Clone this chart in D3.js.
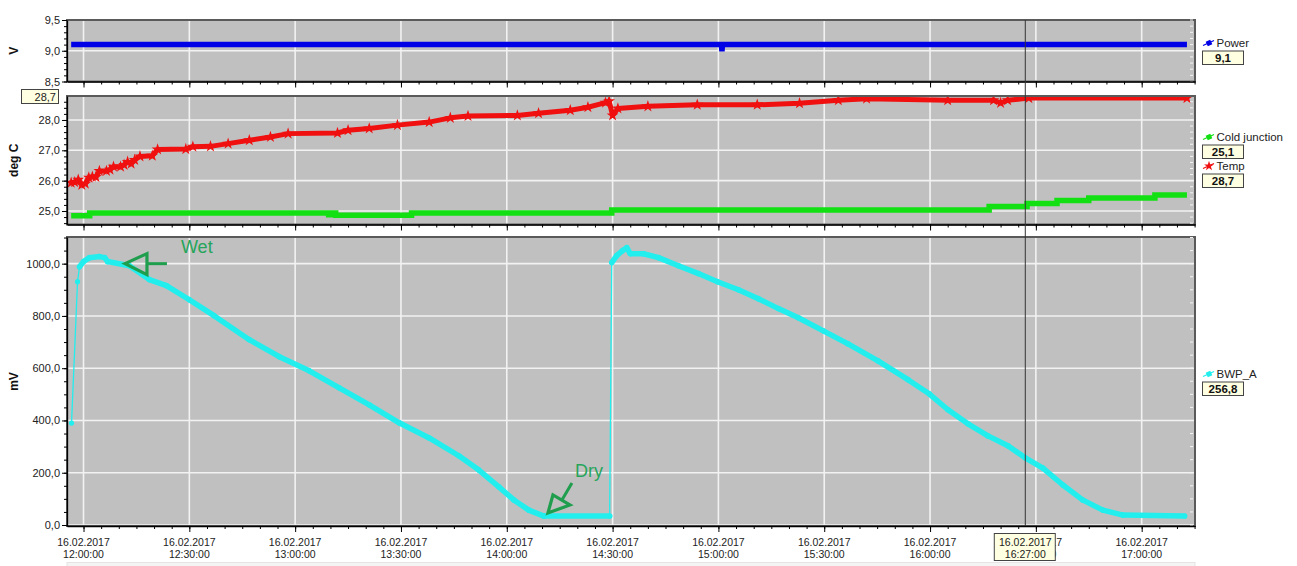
<!DOCTYPE html>
<html><head><meta charset="utf-8">
<script src="https://cdn.jsdelivr.net/npm/d3@7"></script>
<style>
html,body{margin:0;padding:0;background:#fff;}
svg{display:block;font-family:"Liberation Sans",Arial,sans-serif;}
</style></head><body>
<svg id="c" width="1297" height="566"></svg>
<script>
const DAY = "2017-02-16";
// ---- Power (V)
const powerTimes  = ["11:56:30","15:00:50","15:01:00","15:01:10","17:12:50"];
const powerValues = [9.1, 9.1, 8.99, 9.1, 9.1];
// ---- Cold junction (deg C), stepped
const coldTimes  = ["11:56:30","12:01:45","13:09:30","13:10:30","13:11:30","13:33:00","14:29:45","16:16:45","16:27:30","16:36:00","16:45:00","17:03:45","17:12:50"];
const coldValues = [24.84, 24.93, 24.88, 24.93, 24.86, 24.93, 25.03, 25.15, 25.25, 25.35, 25.43, 25.53, 25.53];
// ---- Temp (deg C)
const tempTimes = ["11:56:30","11:57:30","11:58:30","11:59:30","12:00:30","12:01:30","12:02:30","12:03:30","12:04:30","12:06:30","12:07:30","12:08:30","12:10:30","12:11:30","12:12:30","12:13:30","12:14:30","12:16:00","12:19:30","12:21:00","12:29:00","12:31:00","12:36:00","12:41:00","12:47:00","12:53:00","12:58:00","13:12:00","13:15:00","13:21:00","13:29:00","13:38:00","13:44:00","13:49:00","14:03:00","14:09:00","14:18:00","14:23:00","14:28:00","14:29:00","14:30:00","14:31:30","14:40:00","14:54:00","15:11:00","15:23:00","15:34:00","15:42:00","16:05:00","16:18:00","16:20:00","16:22:00","16:28:00","17:12:50"];
const tempValues = [25.93,25.95,26.03,25.86,25.90,26.10,26.13,26.12,26.32,26.32,26.36,26.46,26.46,26.52,26.62,26.56,26.68,26.80,26.82,27.03,27.04,27.12,27.13,27.22,27.33,27.44,27.55,27.57,27.66,27.72,27.83,27.93,28.07,28.13,28.15,28.22,28.32,28.42,28.57,28.62,28.15,28.38,28.45,28.50,28.50,28.55,28.65,28.70,28.65,28.65,28.56,28.65,28.72,28.72];
// ---- BWP_A (mV)
const bwpTimes = ["11:56:36","11:58:18","11:58:52","12:00:00","12:01:42","12:04:30","12:06:00","12:06:50","12:13:00","12:18:40","12:23:30","12:30:00","12:37:00","12:47:00","12:55:30","13:04:00","13:12:30","13:21:00","13:29:30","13:38:00","13:46:30","13:52:00","13:57:45","14:02:00","14:06:15","14:10:30","14:29:10","14:29:45","14:31:10","14:32:50","14:34:00","14:35:00","14:38:45","14:43:00","14:48:40","14:54:20","14:59:45","15:05:40","15:11:20","15:17:00","15:22:40","15:29:45","15:36:45","15:45:15","15:53:45","15:59:45","16:05:05","16:10:45","16:16:25","16:22:05","16:27:00","16:32:00","16:37:40","16:43:15","16:49:00","16:54:40","17:12:10"];
const bwpValues = [390,931,988,1008,1023,1027,1023,1008,992,939,916,862,801,709,644,590,525,460,391,333,264,211,146,96,57,34,34,1004,1031,1050,1061,1038,1038,1023,992,962,931,900,866,828,793,743,693,628,556,502,441,387,341,303,257,218,153,96,57,38,34];
// ---- axis ticks
const powerTicks = [8.5, 9.0, 9.5];
const tempTicks  = [25, 26, 27, 28];
const bwpTicks   = [0, 200, 400, 600, 800, 1000];
// ---- cursor & legend
const cursorTime = "16:27:00";
const legendPower = [{name:"Power", value:"9,1", color:"#0000e6", sym:"square"}];
const legendTemp  = [{name:"Cold junction", value:"25,1", color:"#12e012", sym:"square"},
                     {name:"Temp", value:"28,7", color:"#f01010", sym:"star"}];
const legendBwp   = [{name:"BWP_A", value:"256,8", color:"#22eeee", sym:"square"}];
const yCursorLabel = "28,7";

const parse = d3.timeParse("%Y-%m-%d %H:%M:%S");
const T = s => parse(DAY + " " + (s.length === 5 ? s + ":00" : s));
const svg = d3.select("#c");
const L = 67, R = 1195;
const x = d3.scaleTime().domain([T("11:55:19"), T("17:15:07")]).range([L, R]);
const fmtNum = d => d3.format(".1f")(d).replace(".", ",");
const fmtDate = d3.timeFormat("%d.%m.%Y"), fmtTime = d3.timeFormat("%H:%M:%S");

function panel(opt) {
  const y = d3.scaleLinear().domain(opt.domain).range([opt.bottom, opt.top]);
  const g = svg.append("g");
  const id = "clip" + opt.key;
  svg.append("clipPath").attr("id", id).append("rect")
    .attr("x", L).attr("y", opt.top).attr("width", R - L).attr("height", opt.bottom - opt.top);
  g.append("rect").attr("x", L).attr("y", opt.top).attr("width", R - L).attr("height", opt.bottom - opt.top)
    .attr("fill", "#c0c0c0");
  const majorX = x.ticks(d3.timeMinute.every(30));
  g.selectAll(null).data(majorX).join("line")
    .attr("x1", d => x(d)).attr("x2", d => x(d)).attr("y1", opt.top).attr("y2", opt.bottom)
    .attr("stroke", "#f2f2f2").attr("stroke-width", 1.6);
  g.selectAll(null).data(opt.ticks).join("line")
    .attr("x1", L).attr("x2", R).attr("y1", d => y(d)).attr("y2", d => y(d))
    .attr("stroke", "#f2f2f2").attr("stroke-width", 1.6);
  const data = g.append("g").attr("clip-path", `url(#${id})`);
  opt.draw(data, y);
  g.append("rect").attr("x", L).attr("y", opt.top).attr("width", R - L).attr("height", opt.bottom - opt.top)
    .attr("fill", "none").attr("stroke", "#5a5a5a").attr("stroke-width", 2);
  const minor = d3.range(opt.minor[0], opt.minor[1] + 1e-9, opt.minor[2]).filter(v => y(v) >= opt.top && y(v) <= opt.bottom);
  g.selectAll(null).data(minor).join("line")
    .attr("x1", R - 5).attr("x2", R - 2).attr("y1", d => y(d)).attr("y2", d => y(d))
    .attr("stroke", "#f4f4f4").attr("stroke-width", 1);
  const ya = g.append("g").attr("transform", `translate(${L},0)`)
    .call(d3.axisLeft(y).tickValues(opt.ticks).tickFormat(fmtNum).tickSize(5).tickSizeOuter(0).tickPadding(2));
  ya.select(".domain").attr("stroke", "#000").attr("stroke-width", 1.3);
  ya.selectAll(".tick line").attr("stroke", "#000");
  ya.selectAll("text").attr("font-size", 11).attr("fill", "#222").attr("font-family", "Liberation Sans, Arial, sans-serif");
  g.append("g").attr("transform", `translate(${L},0)`)
    .call(d3.axisLeft(y).tickValues(minor).tickFormat("").tickSize(3).tickSizeOuter(0))
    .call(s => s.select(".domain").remove()).selectAll("line").attr("stroke", "#000");
  const xa = g.append("g").attr("transform", `translate(0,${opt.bottom})`)
    .call(d3.axisBottom(x).ticks(d3.timeMinute.every(30)).tickSize(6).tickSizeOuter(0).tickFormat(""));
  xa.select(".domain").attr("stroke", "#000").attr("stroke-width", 1.3);
  xa.selectAll(".tick line").attr("stroke", "#000");
  g.append("g").attr("transform", `translate(0,${opt.bottom})`)
    .call(d3.axisBottom(x).ticks(d3.timeMinute.every(5)).tickSize(3).tickSizeOuter(0).tickFormat(""))
    .call(s => s.select(".domain").remove()).selectAll("line").attr("stroke", "#000");
  if (opt.labels) {
    const lab = g.append("g").selectAll(null).data(majorX).join("text")
      .attr("text-anchor", "middle").attr("font-size", 10.5).attr("fill", "#222");
    lab.append("tspan").attr("x", d => x(d)).attr("y", opt.bottom + 20).text(d => fmtDate(d));
    lab.append("tspan").attr("x", d => x(d)).attr("y", opt.bottom + 32).text(d => fmtTime(d));
  }
  const cy = (opt.top + opt.bottom) / 2;
  svg.append("text").attr("transform", `translate(18,${cy}) rotate(-90)`).attr("text-anchor", "middle")
    .attr("font-size", 12).attr("font-weight", "bold").attr("fill", "#111").text(opt.title);
  opt.legend.forEach((it, i) => {
    const ly = opt.legendY + i * 29;
    const lg = svg.append("g");
    lg.append("line").attr("x1", 1203).attr("y1", ly + 2.5).attr("x2", 1214).attr("y2", ly - 2.5)
      .attr("stroke", it.color).attr("stroke-width", 1.3);
    if (it.sym === "star") {
      lg.append("path").attr("d", d3.symbol(d3.symbolStar, 30)()).attr("transform", `translate(1209,${ly})`).attr("fill", it.color);
    } else {
      lg.append("rect").attr("x", 1206.5).attr("y", ly - 2.5).attr("width", 5).attr("height", 5).attr("fill", it.color)
        .attr("transform", `rotate(-25,1209,${ly})`);
    }
    lg.append("text").attr("x", 1216.5).attr("y", ly + 4).attr("font-size", 11.5).attr("fill", "#222").text(it.name);
    lg.append("rect").attr("x", 1202.5).attr("y", ly + 8).attr("width", 41).attr("height", 13.5)
      .attr("fill", "#ffffe1").attr("stroke", "#444").attr("stroke-width", 1);
    lg.append("text").attr("x", 1223).attr("y", ly + 18.5).attr("text-anchor", "middle").attr("font-size", 11.5)
      .attr("font-weight", "bold").attr("fill", "#111").text(it.value);
  });
  return y;
}

const rows = (ts, vs) => ts.map((t, i) => ({ t: T(t), v: vs[i] }));

panel({
  key: "p", top: 20, bottom: 81.5, domain: [8.5, 9.5], ticks: powerTicks, minor: [8.5, 9.5, 0.1],
  title: "V", legend: legendPower, legendY: 43, labels: false,
  draw: (g, y) => {
    const d = rows(powerTimes, powerValues);
    g.append("path").datum(d).attr("d", d3.line().x(p => x(p.t)).y(p => y(p.v)))
      .attr("fill", "none").attr("stroke", "#0000e6").attr("stroke-width", 5.5).attr("stroke-linejoin", "miter");
  }
});

panel({
  key: "t", top: 96, bottom: 224.5, domain: [24.555, 28.79], ticks: tempTicks, minor: [24.6, 28.8, 0.2],
  title: "deg C", legend: legendTemp, legendY: 137, labels: false,
  draw: (g, y) => {
    const c = rows(coldTimes, coldValues);
    g.append("path").datum(c).attr("d", d3.line().curve(d3.curveStepAfter).x(p => x(p.t)).y(p => y(p.v)))
      .attr("fill", "none").attr("stroke", "#12e012").attr("stroke-width", 5.5);
    const t = rows(tempTimes, tempValues);
    g.append("path").datum(t).attr("d", d3.line().x(p => x(p.t)).y(p => y(p.v)))
      .attr("fill", "none").attr("stroke", "#f01010").attr("stroke-width", 5).attr("stroke-linejoin", "round");
    g.selectAll(null).data(t).join("path").attr("d", d3.symbol(d3.symbolStar, 44)())
      .attr("transform", p => `translate(${x(p.t)},${y(p.v)})`).attr("fill", "#f01010");
  }
});

panel({
  key: "b", top: 237, bottom: 526, domain: [-3.8, 1102], ticks: bwpTicks, minor: [0, 1100, 50],
  title: "mV", legend: legendBwp, legendY: 374, labels: true,
  draw: (g, y) => {
    const d = rows(bwpTimes, bwpValues);
    for (let i = 1; i < d.length; i++) {
      const x1 = x(d[i - 1].t), y1 = y(d[i - 1].v), x2 = x(d[i].t), y2 = y(d[i].v);
      const steep = Math.abs(y2 - y1) > 3 * Math.abs(x2 - x1);
      g.append("line").attr("x1", x1).attr("y1", y1).attr("x2", x2).attr("y2", y2)
        .attr("stroke", "#22eeee").attr("stroke-width", steep ? 1.3 : 5.5).attr("stroke-linecap", "round");
    }
    g.selectAll(null).data(d).join("circle").attr("cx", p => x(p.t)).attr("cy", p => y(p.v)).attr("r", 2.6)
      .attr("fill", "#22eeee");
    const green = "#1f9e4e";
    const wx = x(T("12:11:45")), wy = y(1000);
    g.append("path").attr("d", `M${wx},${wy}L${wx + 22},${wy - 10}L${wx + 22},${wy + 11}Z`)
      .attr("fill", "none").attr("stroke", green).attr("stroke-width", 3.2).attr("stroke-linejoin", "miter");
    g.append("line").attr("x1", wx + 22).attr("x2", wx + 42).attr("y1", wy).attr("y2", wy).attr("stroke", green).attr("stroke-width", 3);
    g.append("text").attr("x", wx + 56).attr("y", wy - 11).attr("font-size", 18).attr("fill", "#25a55a").text("Wet");
    const dx = x(T("14:11:40")), dy = y(46);
    g.append("path").attr("d", `M${dx},${dy}L${dx + 5},${dy - 18}L${dx + 22},${dy - 8}Z`)
      .attr("fill", "none").attr("stroke", green).attr("stroke-width", 3.2).attr("stroke-linejoin", "miter");
    g.append("line").attr("x1", dx + 14).attr("y1", dy - 13).attr("x2", dx + 24).attr("y2", dy - 30).attr("stroke", green).attr("stroke-width", 3);
    g.append("text").attr("x", dx + 27).attr("y", dy - 36).attr("font-size", 18).attr("fill", "#25a55a").text("Dry");
  }
});

const cx = x(T(cursorTime));
svg.append("line").attr("x1", cx).attr("x2", cx).attr("y1", 20).attr("y2", 526).attr("stroke", "#333").attr("stroke-width", 1);
const cb = svg.append("g");
cb.append("rect").attr("x", cx - 31).attr("y", 533.5).attr("width", 61).attr("height", 27)
  .attr("fill", "#ffffe1").attr("stroke", "#444");
cb.append("text").attr("x", cx).attr("y", 546).attr("text-anchor", "middle").attr("font-size", 10.5).attr("fill", "#222").text(fmtDate(T(cursorTime)));
cb.append("text").attr("x", cx).attr("y", 558).attr("text-anchor", "middle").attr("font-size", 10.5).attr("fill", "#222").text(fmtTime(T(cursorTime)));
svg.append("rect").attr("x", 21.5).attr("y", 89.5).attr("width", 37).attr("height", 14).attr("fill", "#ffffe1").attr("stroke", "#444");
svg.append("text").attr("x", 56).attr("y", 100.5).attr("text-anchor", "end").attr("font-size", 11).attr("fill", "#222").text(yCursorLabel);
svg.append("rect").attr("x", L).attr("y", 562.5).attr("width", R - L).attr("height", 4).attr("fill", "#f4f4f4").attr("stroke", "#e4e4e4");
</script>
</body></html>
